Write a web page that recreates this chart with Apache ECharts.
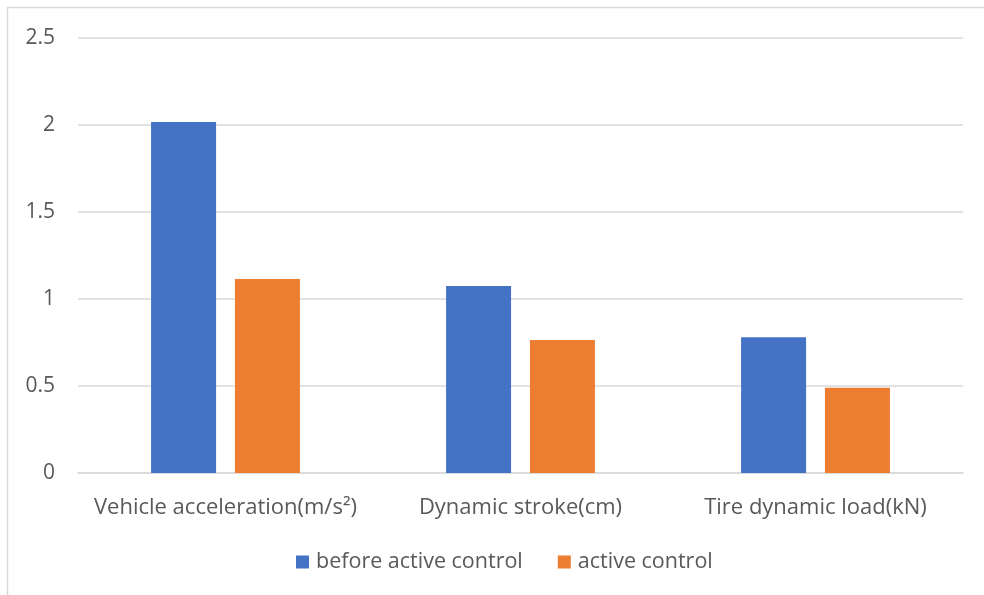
<!DOCTYPE html>
<html><head><meta charset="utf-8">
<script src="https://cdn.jsdelivr.net/npm/echarts@6/dist/echarts.min.js"></script>
<style>html,body{margin:0;padding:0;background:#fff}#c{width:984px;height:595px}</style>
</head><body><div id="c"></div>
<script>
const categories = ['Vehicle acceleration(m/s\u00b2)', 'Dynamic stroke(cm)', 'Tire dynamic load(kN)'];
const beforeActive = [2.017, 1.075, 0.78];
const activeControl = [1.115, 0.764, 0.49];
const seriesNames = ['before active control', 'active control'];
const yTicks = {min: 0, max: 2.5, interval: 0.5};

const chart = echarts.init(document.getElementById('c'), null, {renderer: 'canvas'});
const font = 'Open Sans';
chart.setOption({
  animation: false,
  graphic: [{type: 'rect', shape: {x: 7.5, y: 7.5, width: 1000, height: 1000}, style: {fill: 'none', stroke: '#D9D9D9', lineWidth: 1.5}, silent: true}],
  grid: {left: 78, right: 21, top: 38, bottom: 122, containLabel: false},
  legend: {
    top: 551, left: 296, padding: 0, itemWidth: 13, itemHeight: 13, itemGap: 35,
    icon: 'rect',
    textStyle: {color: '#595959', fontSize: 21.5, fontFamily: font, padding: [0, 0, 0, 2], lineHeight: 22},
    data: seriesNames
  },
  xAxis: {
    type: 'category', data: categories,
    axisLine: {lineStyle: {color: '#D9D9D9', width: 1.5}},
    axisTick: {show: false},
    axisLabel: {color: '#595959', fontSize: 22, fontFamily: font, margin: 24, lineHeight: 22, interval: 0, hideOverlap: false}
  },
  yAxis: {
    type: 'value', min: yTicks.min, max: yTicks.max, interval: yTicks.interval,
    axisLine: {show: false}, axisTick: {show: false},
    splitLine: {lineStyle: {color: '#D9D9D9', width: 1.5}},
    axisLabel: {color: '#595959', fontSize: 21, fontFamily: font, margin: 23}
  },
  series: [
    {name: seriesNames[0], type: 'bar', data: beforeActive, barWidth: 65, barGap: '29%', itemStyle: {color: '#4472C4'}},
    {name: seriesNames[1], type: 'bar', data: activeControl, barWidth: 65, itemStyle: {color: '#ED7D31'}}
  ]
});
</script></body></html>
